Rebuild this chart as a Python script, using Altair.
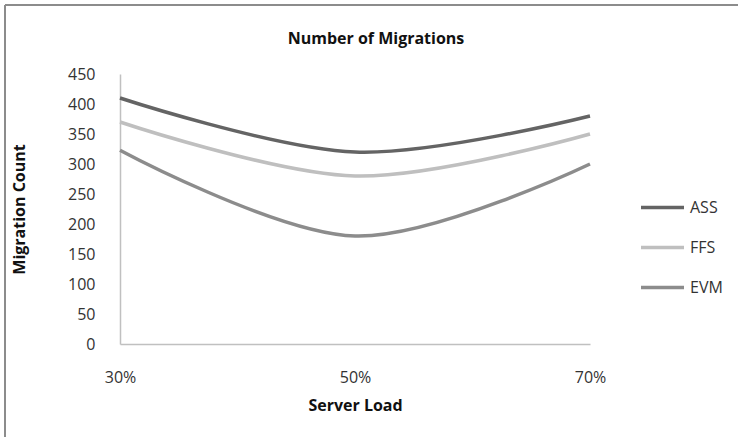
import altair as alt
import pandas as pd

# Server load levels (%) and migration counts per scheduling scheme
loads = [30, 50, 70]
series_names = ["ASS", "FFS", "EVM"]
ass_counts = [410, 320, 380]
ffs_counts = [370, 280, 350]
evm_counts = [323, 180, 300]
series_colors = ["#646464", "#bfbfbf", "#8c8c8c"]

rows = []
for name, counts in zip(series_names, [ass_counts, ffs_counts, evm_counts]):
    for load, count in zip(loads, counts):
        rows.append({"Server Load": load, "Migration Count": count, "Scheme": name})
df = pd.DataFrame(rows)

FONT = "Open Sans"

lines = (
    alt.Chart(df)
    .mark_line(interpolate="cardinal", strokeWidth=3.5)
    .encode(
        x=alt.X(
            "Server Load:Q",
            scale=alt.Scale(domain=[30, 70], nice=False, zero=False),
            axis=alt.Axis(
                values=loads,
                labelExpr="datum.value + '%'",
                ticks=False,
                grid=False,
                labelPadding=25,
                titlePadding=12,
                labelFlush=False,
            ),
        ),
        y=alt.Y(
            "Migration Count:Q",
            scale=alt.Scale(domain=[0, 450], nice=False),
            axis=alt.Axis(
                values=list(range(0, 451, 50)),
                ticks=False,
                grid=False,
                labelPadding=25,
                titlePadding=40,
            ),
        ),
        color=alt.Color(
            "Scheme:N",
            scale=alt.Scale(domain=series_names, range=series_colors),
            sort=series_names,
            legend=alt.Legend(
                title=None,
                orient="none",
                legendX=519,
                legendY=124,
                symbolType="stroke",
                symbolSize=1849,
                symbolStrokeWidth=3.5,
                labelFontSize=16,
                labelFont=FONT,
                labelColor="#333333",
                labelOffset=4,
                rowPadding=21,
                clipHeight=19,
            ),
        ),
    )
)

one = pd.DataFrame([{"k": 0}])

# Outer frame of the chart area
frame_left = alt.Chart(one).mark_rule(color="#8c8c8c", strokeWidth=2).encode(
    x=alt.value(-115), y=alt.value(-69), y2=alt.value(380)
)
frame_top = alt.Chart(one).mark_rule(color="#8c8c8c", strokeWidth=2).encode(
    y=alt.value(-69), x=alt.value(-115), x2=alt.value(640)
)

chart = (
    alt.layer(frame_left, frame_top, lines)
    .properties(
        width=470,
        height=270,
        background="white",
        padding={"left": 120, "top": 74, "right": 148, "bottom": 93},
        autosize=alt.AutoSizeParams(type="none"),
        title=alt.TitleParams(
            "Number of Migrations",
            font=FONT,
            fontSize=16,
            fontWeight="bold",
            color="#111111",
            anchor="middle",
            frame="group",
            dx=21,
            offset=-43,
        ),
    )
    .configure_view(stroke=None)
    .configure_axis(
        domainColor="#c0c0c0",
        domainWidth=1.5,
        labelFont=FONT,
        labelFontSize=16,
        labelColor="#333333",
        titleFont=FONT,
        titleFontSize=16,
        titleFontWeight="bold",
        titleColor="#111111",
    )
)

chart.save("out.html", embed_options={"renderer": "svg", "actions": False})
